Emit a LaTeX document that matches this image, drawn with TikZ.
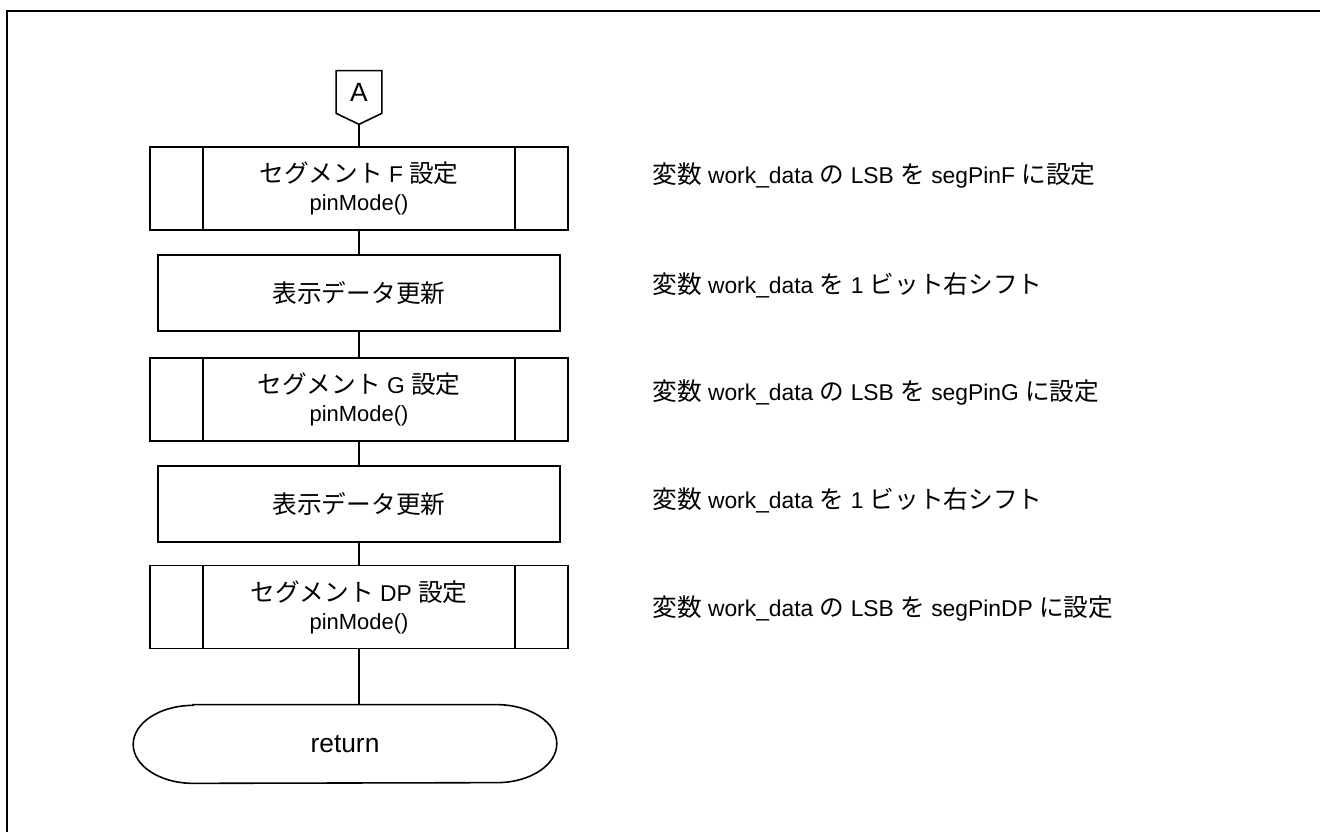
\documentclass[tikz,border=0pt]{standalone}
\usepackage{fontspec}
\setmainfont{Liberation Sans}
\newfontfamily\jp[Scale=1.08]{Noto Sans CJK JP}
\usetikzlibrary{positioning}
\newcommand{\ja}[1]{{\jp #1}}

\tikzset{
  proc/.style={draw, line width=0.9pt, minimum width=8.04cm, minimum height=1.52cm,
    align=center, font=\fontsize{13}{18}\selectfont},
  subproc/.style={proc, minimum width=8.36cm, minimum height=1.66cm,
    path picture={
      \draw[line width=0.9pt] ([xshift=1.06cm]path picture bounding box.north west) -- ([xshift=1.06cm]path picture bounding box.south west);
      \draw[line width=0.9pt] ([xshift=-1.06cm]path picture bounding box.north east) -- ([xshift=-1.06cm]path picture bounding box.south east);
    }},
  note/.style={anchor=west, inner sep=0pt, font=\fontsize{13}{15}\selectfont},
  flow/.style={line width=0.9pt},
}

\begin{document}
\begin{tikzpicture}[x=0.02cm, y=-0.02cm]
  \useasboundingbox (0,0) rectangle (1320,832);

  %%%%% frame %%%%%
  \draw[line width=1.2pt] (7,840) -- (7,11) -- (1330,11);

  %%%%% connector A %%%%%
  \node (conA) at (359,92) [minimum width=0.9cm, minimum height=0.84cm, inner sep=0pt,
    font=\fontsize{15}{17}\selectfont] {A};
  \draw[flow] (conA.south west) -- (conA.north west) -- (conA.north east) -- (conA.south east)
    -- ([yshift=-0.22cm]conA.south) -- cycle;
  \coordinate (conAtip) at ([yshift=-0.22cm]conA.south);

  %%%%% boxes %%%%%
  \node[subproc] (segF) at (359,188.5) {\ja{セグメント} F \ja{設定}\\[-2pt]{\fontsize{12.5}{14}\selectfont pinMode()}};
  \node[proc] (upd1) at (359,293) {\ja{表示データ更新}};
  \node[subproc] (segG) at (359,399.5) {\ja{セグメント} G \ja{設定}\\[-2pt]{\fontsize{12.5}{14}\selectfont pinMode()}};
  \node[proc] (upd2) at (359,504) {\ja{表示データ更新}};
  \node[subproc] (segDP) at (359,607) {\ja{セグメント} DP \ja{設定}\\[-2pt]{\fontsize{12.5}{14}\selectfont pinMode()}};

  %%%%% return %%%%%
  \node (ret) at (345,744) [minimum width=8.46cm, minimum height=1.56cm, inner sep=0pt,
    font=\fontsize{15}{17}\selectfont] {return};
  \draw[flow] ([xshift=1.2cm]ret.north west) -- ([xshift=-1.2cm]ret.north east)
    arc[start angle=90, end angle=-90, x radius=1.2cm, y radius=0.78cm]
    -- ([xshift=1.2cm]ret.south west)
    arc[start angle=270, end angle=90, x radius=1.2cm, y radius=0.78cm] -- cycle;

  %%%%% lines %%%%%
  \draw[flow] (conAtip) -- (segF);
  \draw[flow] (segF) -- (upd1);
  \draw[flow] (upd1) -- (segG);
  \draw[flow] (segG) -- (upd2);
  \draw[flow] (upd2) -- (segDP);
  \draw[flow] (segDP.south) -- (segDP.south |- ret.north);

  %%%%% notes %%%%%
  \node[note] (nF) at (652,175) {\ja{変数} work\_data \ja{の} LSB \ja{を} segPinF \ja{に設定}};
  \node[note] (n1) at (652,285) {\ja{変数} work\_data \ja{を} 1 \ja{ビット右シフト}};
  \node[note] (nG) at (652,392) {\ja{変数} work\_data \ja{の} LSB \ja{を} segPinG \ja{に設定}};
  \node[note] (n2) at (652,500) {\ja{変数} work\_data \ja{を} 1 \ja{ビット右シフト}};
  \node[note] (nDP) at (652,608) {\ja{変数} work\_data \ja{の} LSB \ja{を} segPinDP \ja{に設定}};
\end{tikzpicture}
\end{document}
